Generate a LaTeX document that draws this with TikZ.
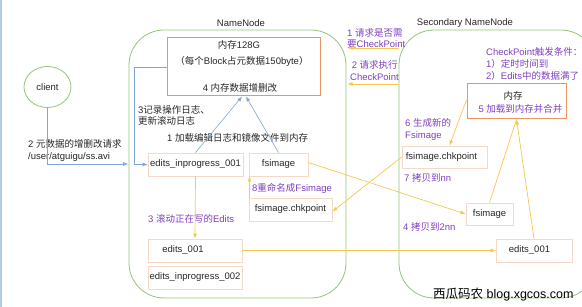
\documentclass[tikz,border=0pt]{standalone}
\usepackage{fontspec}
\setmainfont{Liberation Sans}
\newfontfamily\cjkfont{Noto Sans CJK SC}
\newcommand\zh[1]{{\cjkfont #1}}
\usetikzlibrary{arrows.meta,shapes.geometric}
\definecolor{nngreen}{RGB}{150,196,120}
\definecolor{memorange}{RGB}{232,150,100}
\definecolor{palebox}{RGB}{247,216,198}
\definecolor{blueln}{RGB}{126,166,216}
\definecolor{yellowln}{RGB}{245,200,80}
\definecolor{purp}{RGB}{128,64,192}
\definecolor{txtgray}{RGB}{40,40,40}
\begin{document}
\begin{tikzpicture}[x=1pt,y=-1pt,
  every node/.style={font=\fontsize{9.5}{12}\selectfont, text=txtgray, inner sep=0pt},
  frame/.style={draw=nngreen, line width=0.8pt, rounded corners=35pt},
  membox/.style={draw=memorange, line width=1pt},
  pbox/.style={draw=palebox, line width=0.8pt},
  lbl/.style={anchor=west, align=left, text=purp},
  blk/.style={anchor=west, align=left, text=txtgray},
  blink/.style={draw=blueln, line width=0.6pt, -{Latex[length=5pt,width=4pt]}},
  ylink/.style={draw=yellowln, line width=0.7pt, -{Latex[length=5pt,width=4pt]}}
]
\useasboundingbox (0,0) rectangle (582,307);
\clip (0,0) rectangle (582,307);
\fill[white] (0,0) rectangle (582,307);
\draw[blueln!60, line width=2pt] (1,0) -- (1,307);

% frames
\draw[frame] (129,30) rectangle (346,298);
\draw[frame] (399,30) rectangle (596,298);
\node (nnt) at (241,23) {NameNode};
\node (snnt) at (465,23) {Secondary NameNode};

% client
\node[draw=nngreen, line width=0.8pt, ellipse, minimum width=47pt, minimum height=41pt] (client) at (47.5,87) {client};
\node[blk, font=\fontsize{9.5}{11.5}\selectfont] (cl) at (28,150.5) {2 \zh{元数据的增删改请求}\\/user/atguigu/ss.avi};
\coordinate (nnin) at (128,164);
\draw[blink] (client.south) |- (nnin);

% NameNode memory
\node[membox, minimum width=153pt, minimum height=58pt] (mem) at (243.5,67) {};
\node (m1) at (239,45) {\zh{内存}128G};
\node (m2) at (242,61) {\zh{（每个}Block\zh{占元数据}150byte\zh{）}};
\node (m3) at (240,88) {4 \zh{内存数据增删改}};

% NameNode files
\node[pbox, minimum width=95pt, minimum height=23pt] (ei1) at (195.5,164.5) {edits\_inprogress\_001};
\node[pbox, minimum width=59pt, minimum height=23pt] (fsi) at (278.5,164.5) {fsimage};
\node[pbox, minimum width=83pt, minimum height=23pt] (fck) at (290.5,209.5) {fsimage.chkpoint};
\node[pbox, minimum width=94pt, minimum height=23pt] (e001) at (195,250.5) {};
\node (e001t) at (183,250.5) {edits\_001};
\node[pbox, minimum width=94pt, minimum height=23pt] (ei2) at (195,277.5) {edits\_inprogress\_002};

% NameNode labels
\node[blk, font=\fontsize{9.5}{11}\selectfont] (l3) at (138,115.5) {3\zh{记录操作日志、}\\\zh{更新滚动日志}};
\node[blk] (l1) at (167,138) {1 \zh{加载编辑日志和镜像文件到内存}};
\node[lbl] (l3b) at (148,219) {3 \zh{滚动正在写的}Edits};
\node[lbl] (l8) at (252,188) {8\zh{重命名成}Fsimage};

% NameNode links
\coordinate (b1) at (134,67);
\draw[blink] (mem.west) -- (b1) |- (ei1.west);
\draw[blink] (ei1.north) -- ([xshift=-1.5pt]mem.south);
\draw[blink] (fsi.north) -- ([xshift=2.5pt]mem.south);
\draw[ylink] (ei1.south) -- (e001.north);
\draw[ylink] ([xshift=1pt]fck.north west) -- ([xshift=1pt]fsi.south west);

% Secondary NameNode
\node[membox, minimum width=99pt, minimum height=35pt] (mem2) at (516.5,101.5) {};
\node (m21) at (513,96) {\zh{内存}};
\node[text=purp] (m22) at (520.5,109) {5 \zh{加载到内存并合并}};
\node[lbl] (trig) at (486,64) {CheckPoint\zh{触发条件：}\\1\zh{）定时时间到}\\2\zh{）}Edits\zh{中的数据满了}};
\node[pbox, minimum width=85pt, minimum height=22pt] (fck2) at (444.5,157) {};
\node (fck2t) at (441.5,157) {fsimage.chkpoint};
\node[pbox, minimum width=47pt, minimum height=22pt] (fsi2) at (489.5,214) {fsimage};
\node[pbox, minimum width=76pt, minimum height=23pt] (e0012) at (534,250.5) {};
\node (e0012t) at (529.5,250.5) {edits\_001};
\node[lbl] (l6) at (405,129) {6 \zh{生成新的}\\Fsimage};
\node[lbl] (l7) at (404,178) {7 \zh{拷贝到}nn};
\node[lbl] (l4) at (403,227) {4 \zh{拷贝到}2nn};

% requests
\node[lbl, font=\fontsize{9.5}{11}\selectfont] (r1) at (347,38.5) {1 \zh{请求是否需}\\\zh{要}CheckPoint};
\node[lbl] (r2) at (350,71) {\,2 \zh{请求执行}\\CheckPoint};
\coordinate (r1s) at (399,48);
\coordinate (r1e) at (347.5,48);
\coordinate (r2s) at (399,84);
\coordinate (r2e) at (347.5,84);
\draw[ylink] (r1s) -- (r1e);
\draw[ylink] (r2s) -- (r2e);

% SNN links
\draw[ylink] ([yshift=1.5pt]mem2.west) -- ([xshift=5pt]fck2.north);
\draw[ylink, -] (fsi2.north) -- (mem2.south);
\draw[ylink] (e0012.north) -- (mem2.south);
\draw[ylink] (fck2.west) -- ([yshift=-2pt]fck.east);
\draw[ylink] ([yshift=2pt]fsi.east) -- (fsi2.west);
\draw[ylink] (e001.east) -- (e0012.west);

% watermark
\node[anchor=west, text=black, font=\fontsize{12.5}{14}\selectfont] (wm) at (433,295) {\zh{西瓜码农} blog.xgcos.com};
\end{tikzpicture}
\end{document}
